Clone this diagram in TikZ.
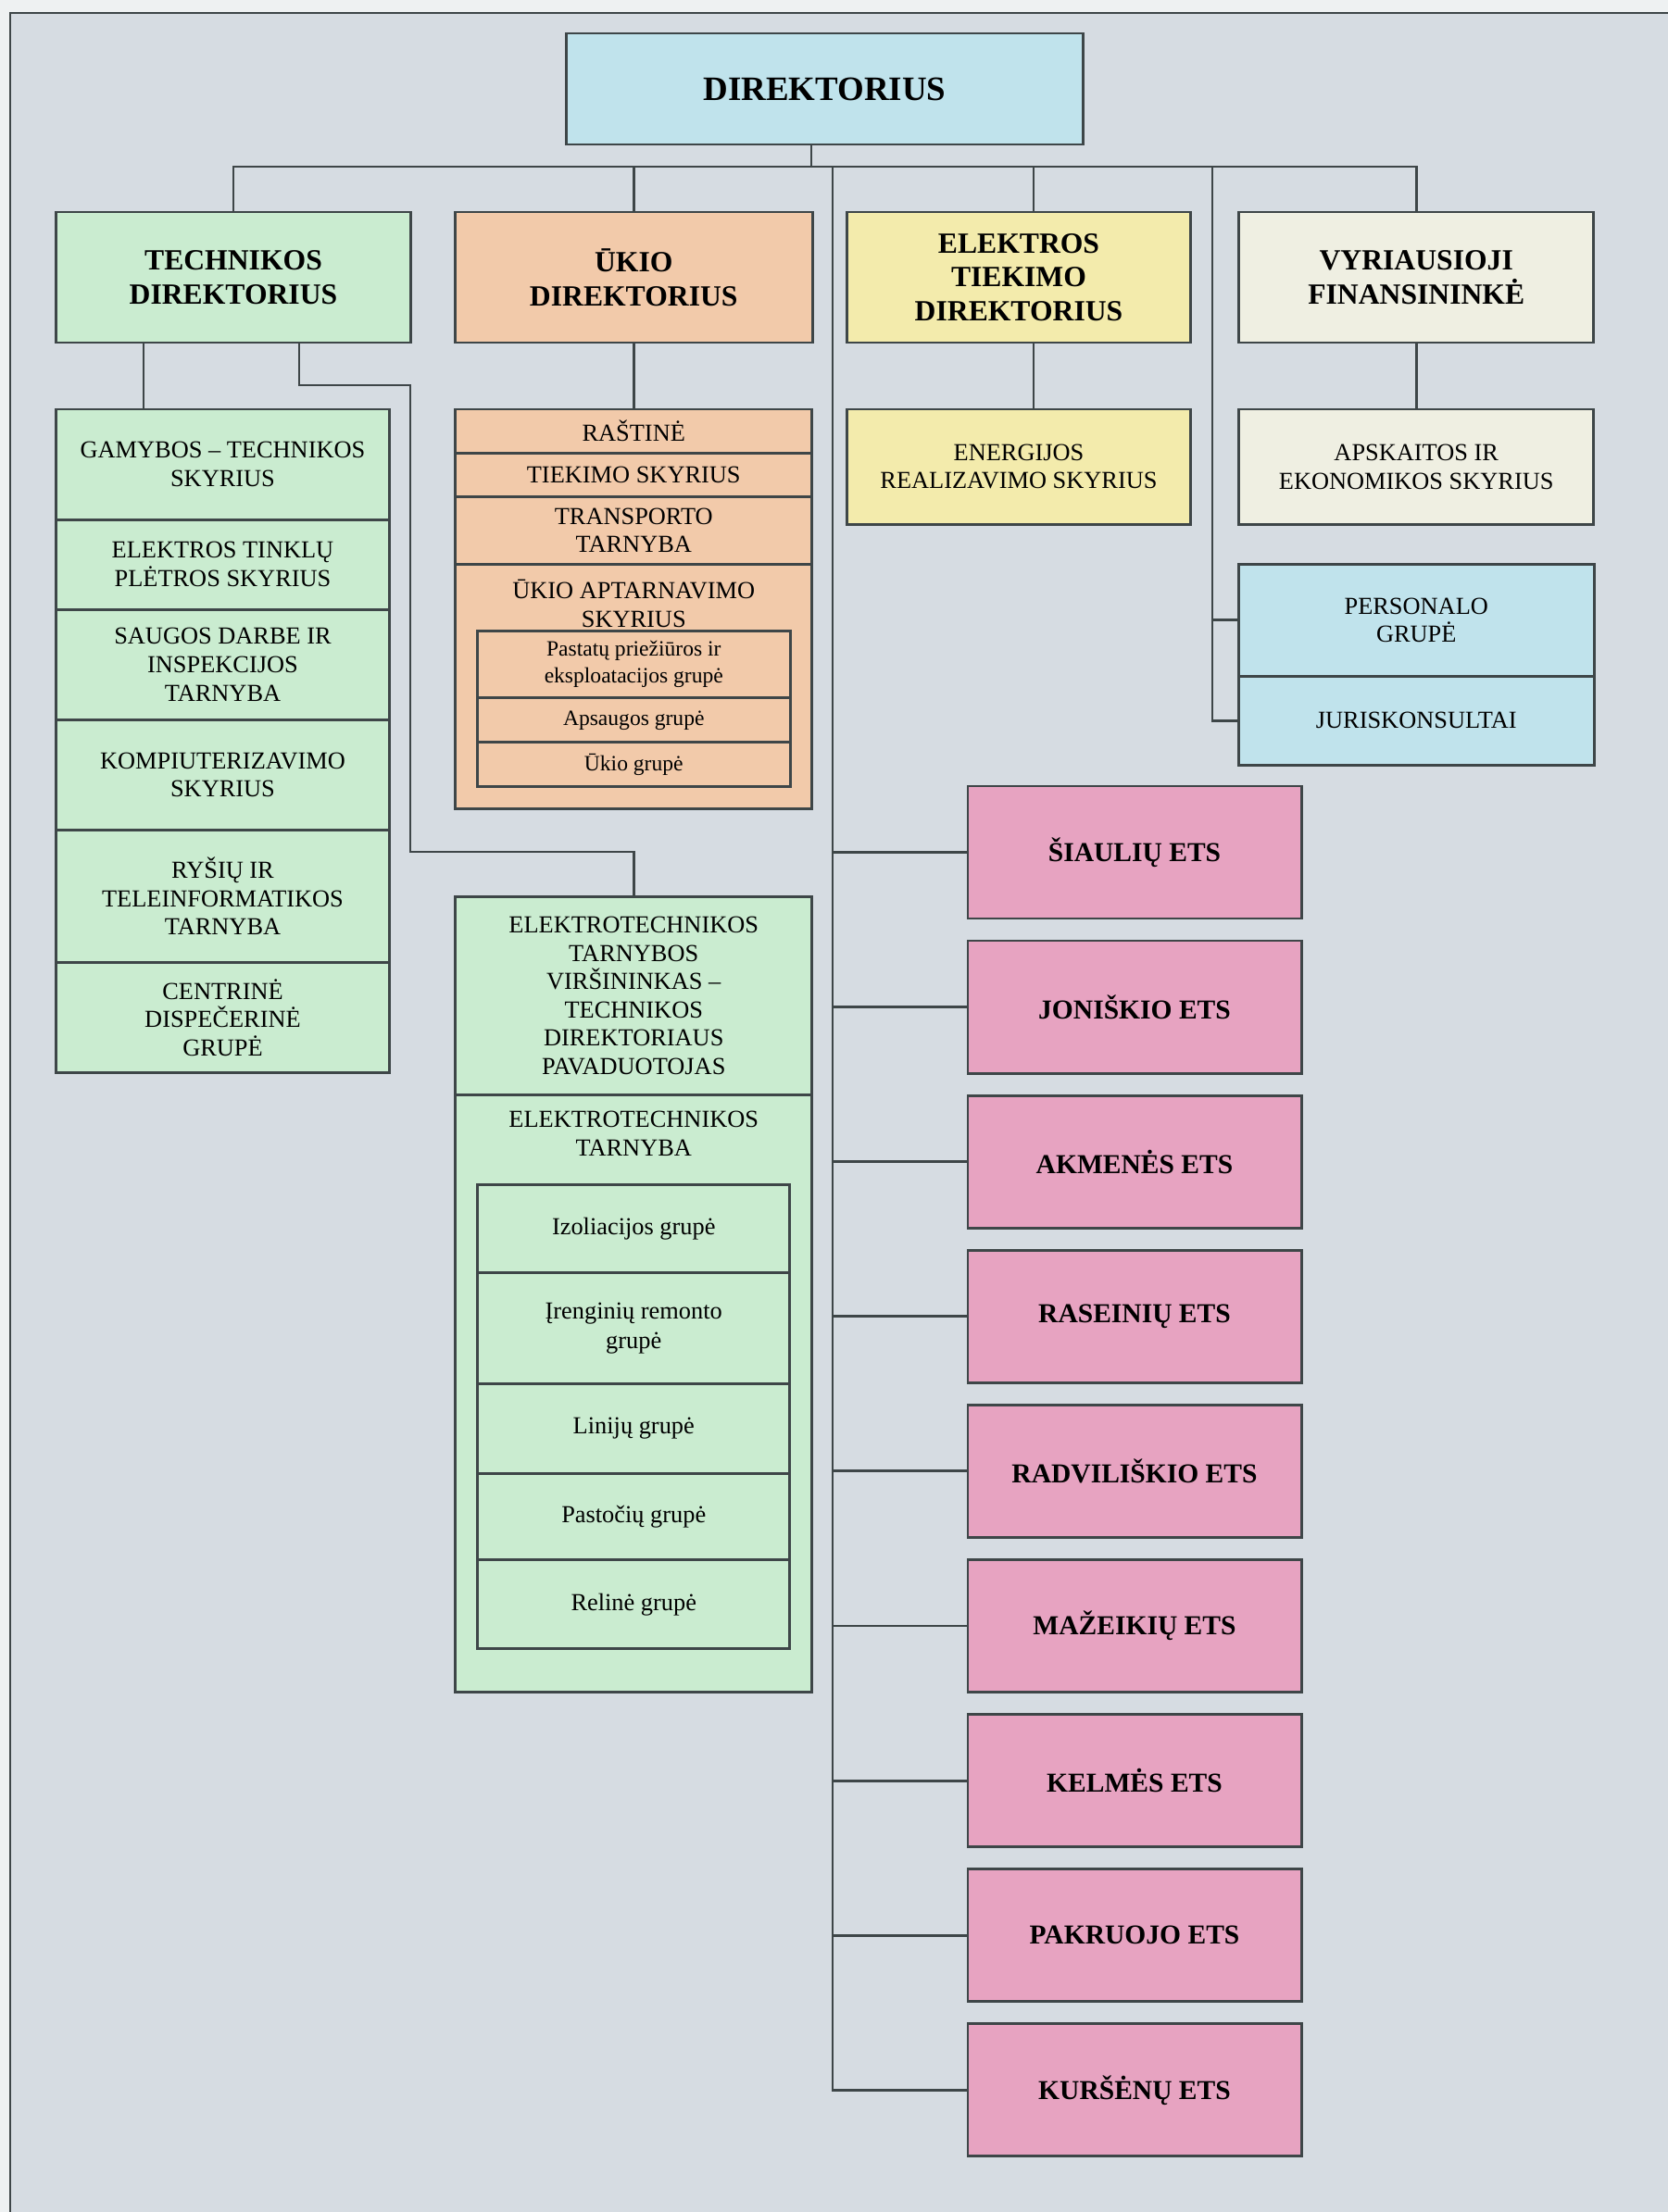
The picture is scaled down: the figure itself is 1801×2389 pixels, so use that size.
\documentclass[tikz,border=0pt]{standalone}
\usepackage{fontspec}
\setmainfont{Liberation Serif}
\usetikzlibrary{positioning}
\definecolor{pagebg}{RGB}{214,220,226}
\definecolor{outbg}{RGB}{238,241,242}
\definecolor{linecol}{RGB}{62,70,72}
\definecolor{topblue}{RGB}{192,227,236}
\definecolor{techgreen}{RGB}{202,236,208}
\definecolor{ukioorange}{RGB}{242,202,170}
\definecolor{elekyellow}{RGB}{243,235,172}
\definecolor{fincream}{RGB}{239,239,226}
\definecolor{etspink}{RGB}{231,163,193}
\newcommand*{\topfont}{\bfseries\fontsize{10.5}{12}\selectfont}
\newcommand*{\headfont}{\bfseries\fontsize{9}{10.4}\selectfont}
\newcommand*{\unitfont}{\fontsize{7.5}{8.7}\selectfont}
\newcommand*{\grpfont}{\fontsize{7.5}{9}\selectfont}
\newcommand*{\smallgrpfont}{\fontsize{6.7}{8.3}\selectfont}
\newcommand*{\etsfont}{\bfseries\fontsize{8.4}{10}\selectfont}
\tikzstyle{box} = [draw=linecol, line width=0.8pt, rectangle, outer sep=0pt, inner sep=2pt, align=center]
\tikzstyle{chief} = [box, fill=topblue, font=\topfont]
\tikzstyle{head} = [box, minimum height=1.41cm, font=\headfont]
\tikzstyle{unit} = [box, font=\unitfont]
\tikzstyle{grp} = [box, font=\grpfont]
\tikzstyle{ets} = [box, fill=etspink, minimum width=3.6cm, minimum height=1.43cm, font=\etsfont]
\tikzstyle{caption} = [font=\unitfont, align=center, inner sep=0pt]
\tikzstyle{link} = [draw=linecol, line width=0.8pt]

\begin{document}
\begin{tikzpicture}[x=0.01cm, y=-0.01cm]
    % Page.
    \useasboundingbox (0,0) rectangle (1801,2389);
    \fill [outbg] (0,0) rectangle (1801,2389);
    \fill [pagebg] (11,14) rectangle (1801,2389);
    \draw [link] (11,2389) -- (11,14) -- (1801,14);

    % Directors.
    \node (dir) [chief, minimum width=5.57cm, minimum height=1.2cm] at (890.5,96) {DIREKTORIUS};
    \node (tech) [head, fill=techgreen, minimum width=3.82cm] at (252,299.5) {TECHNIKOS\\DIREKTORIUS};
    \node (ukio) [head, fill=ukioorange, minimum width=3.86cm, right=0.48cm of tech] {ŪKIO\\DIREKTORIUS};
    \node (elek) [head, fill=elekyellow, minimum width=3.71cm, right=0.37cm of ukio] {ELEKTROS\\TIEKIMO\\DIREKTORIUS};
    \node (fin) [head, fill=fincream, minimum width=3.83cm, right=0.52cm of elek] {VYRIAUSIOJI\\FINANSININKĖ};

    % Technikos units.
    \node (tsec1) [unit, fill=techgreen, minimum width=3.59cm, minimum height=1.19cm, below right=0.72cm and 0cm of tech.south west] {GAMYBOS – TECHNIKOS\\SKYRIUS};
    \foreach \i/\j/\h/\t in {2/1/0.97/{ELEKTROS TINKLŲ\\PLĖTROS SKYRIUS}, 3/2/1.19/{SAUGOS DARBE IR\\INSPEKCIJOS\\TARNYBA}, 4/3/1.19/{KOMPIUTERIZAVIMO\\SKYRIUS}, 5/4/1.43/{RYŠIŲ IR\\TELEINFORMATIKOS\\TARNYBA}, 6/5/1.19/{CENTRINĖ\\DISPEČERINĖ\\GRUPĖ}} {
        \node (tsec\i) [unit, fill=techgreen, minimum width=3.59cm, minimum height=\h cm, below=0pt of tsec\j] {\t};
    }

    % Ukio units.
    \node (usec1) [unit, fill=ukioorange, minimum width=3.85cm, minimum height=0.47cm, below=0.72cm of ukio] {RAŠTINĖ};
    \node (usec2) [unit, fill=ukioorange, minimum width=3.85cm, minimum height=0.47cm, below=0pt of usec1] {TIEKIMO SKYRIUS};
    \node (usec3) [unit, fill=ukioorange, minimum width=3.85cm, minimum height=0.73cm, below=0pt of usec2] {TRANSPORTO\\TARNYBA};
    \node (usec4) [unit, fill=ukioorange, minimum width=3.85cm, minimum height=2.64cm, below=0pt of usec3] {};
    \node (usec4t) [caption, yshift=-0.425cm] at (usec4.north) {ŪKIO APTARNAVIMO\\SKYRIUS};
    \node (ugrp1) [grp, font=\smallgrpfont, fill=ukioorange, minimum width=3.38cm, minimum height=0.725cm, below=0.72cm of usec4.north] {Pastatų priežiūros ir\\eksploatacijos grupė};
    \node (ugrp2) [grp, font=\smallgrpfont, fill=ukioorange, minimum width=3.38cm, minimum height=0.48cm, below=0pt of ugrp1] {Apsaugos grupė};
    \node (ugrp3) [grp, font=\smallgrpfont, fill=ukioorange, minimum width=3.38cm, minimum height=0.475cm, below=0pt of ugrp2] {Ūkio grupė};

    % Elektrotechnikos tarnyba.
    \node (etv) [unit, fill=techgreen, minimum width=3.85cm, minimum height=2.14cm, below=0.95cm of usec4] {ELEKTROTECHNIKOS\\TARNYBOS\\VIRŠININKAS –\\TECHNIKOS\\DIREKTORIAUS\\PAVADUOTOJAS};
    \node (ett) [unit, fill=techgreen, minimum width=3.85cm, minimum height=6.45cm, below=0pt of etv] {};
    \node (ettt) [caption, yshift=-0.42cm] at (ett.north) {ELEKTROTECHNIKOS\\TARNYBA};
    \node (egrp1) [grp, fill=techgreen, minimum width=3.37cm, minimum height=0.954cm, below=0.966cm of ett.north] {Izoliacijos grupė};
    \foreach \i/\j/\h/\t in {2/1/1.2/{Įrenginių remonto\\grupė}, 3/2/0.966/{Linijų grupė}, 4/3/0.934/{Pastočių grupė}, 5/4/0.96/{Relinė grupė}} {
        \node (egrp\i) [grp, fill=techgreen, minimum width=3.37cm, minimum height=\h cm, below=0pt of egrp\j] {\t};
    }

    % Other units.
    \node (energ) [unit, fill=elekyellow, minimum width=3.71cm, minimum height=1.24cm, below=0.72cm of elek] {ENERGIJOS\\REALIZAVIMO SKYRIUS};
    \node (apsk) [unit, fill=fincream, minimum width=3.83cm, minimum height=1.24cm, below=0.72cm of fin] {APSKAITOS IR\\EKONOMIKOS SKYRIUS};
    \node (pers) [unit, fill=topblue, minimum width=3.84cm, minimum height=1.21cm, below=0.43cm of apsk] {PERSONALO\\GRUPĖ};
    \node (juris) [unit, fill=topblue, minimum width=3.84cm, minimum height=0.96cm, below=0pt of pers] {JURISKONSULTAI};

    % ETS.
    \node (ets1) [ets] at (1225,920.5) {ŠIAULIŲ ETS};
    \foreach \i/\j/\t in {2/1/JONIŠKIO, 3/2/AKMENĖS, 4/3/RASEINIŲ, 5/4/RADVILIŠKIO, 6/5/MAŽEIKIŲ, 7/6/KELMĖS, 8/7/PAKRUOJO, 9/8/KURŠĖNŲ} {
        \node (ets\i) [ets, below=0.24cm of ets\j] {\t{} ETS};
    }

    % Lines.
    \coordinate (bus) at (876,180);
    \coordinate (spine) at (899,180);
    \coordinate (ecol) at (1116,180);
    \coordinate (side) at (1309,180);
    \coordinate (tdrop) at (155,370);
    \coordinate (tbend) at (323,416);
    \coordinate (tbend2) at (443,920);
    \draw [link] (bus) -- (bus |- dir.south);
    \draw [link] (tech.north) |- (bus) -| (fin.north);
    \draw [link] (ukio.north) -- (ukio.north |- bus);
    \draw [link] (ecol) -- (ecol |- elek.north);
    \draw [link] (tdrop) -- (tdrop |- tsec1.north);
    \draw [link] (tech.south -| tbend) -- (tbend) -| (tbend2) -| (etv.north);
    \draw [link] (ukio) -- (usec1);
    \draw [link] (elek.south -| ecol) -- (energ.north -| ecol);
    \draw [link] (fin) -- (apsk);
    \draw [link] (side) |- (juris.west);
    \draw [link] (side |- pers.west) -- (pers.west);
    \draw [link] (spine) |- (ets9.west);
    \foreach\i in {1, ..., 8} {
        \draw [link] (spine |- ets\i.west) -- (ets\i.west);
    }
\end{tikzpicture}
\end{document}
